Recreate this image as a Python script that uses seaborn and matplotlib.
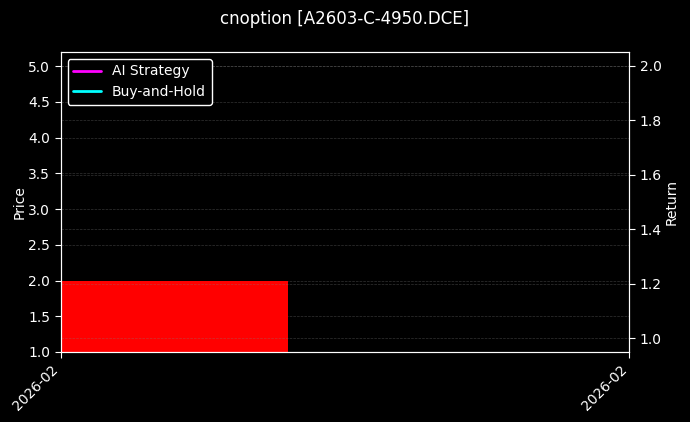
import numpy as np
import pandas as pd
import matplotlib
matplotlib.use('Agg')
import matplotlib.pyplot as plt
import matplotlib.dates as mdates
import seaborn as sns

# Data
dates = ['2026-02-02']
open_price = [2.0]
close_price = [1.0]
ai_strategy = [1.0]
buy_and_hold = [1.0]
tick_labels = ['2026-02', '2026-02']

sns.set_style('dark')
plt.rcParams['font.family'] = ['DejaVu Sans']

df = pd.DataFrame({
    'date': pd.to_datetime(dates),
    'open': open_price,
    'close': close_price,
    'ai': ai_strategy,
    'hold': buy_and_hold,
})

fig, ax = plt.subplots(figsize=(6.9, 4.22), dpi=100)
fig.patch.set_facecolor('black')
ax.set_facecolor('black')
ax2 = ax.twinx()

# candle bodies
x = mdates.date2num(df['date'])
bottom = np.minimum(df['open'], df['close'])
height = np.abs(df['open'] - df['close'])
colors = ['red' if c < o else 'lime' for o, c in zip(df['open'], df['close'])]
ax.bar(x, height, bottom=bottom, width=0.6, color=colors, edgecolor='none', linewidth=0)

# strategy curves on return axis
sns.lineplot(x=x, y=df['ai'], ax=ax2, color='magenta', lw=2, label='AI Strategy', legend=False)
sns.lineplot(x=x, y=df['hold'], ax=ax2, color='cyan', lw=2, label='Buy-and-Hold', legend=False)

ax.set_xlim(x[0] - 0.3, x[0] + 1.2)
ax.set_ylim(1.0, 5.2)
ax2.set_ylim(0.95, 2.05)
ax.set_xticks([x[0] - 0.3, x[0] + 1.2])
ax.set_xticklabels(tick_labels, rotation=45, ha='right')

ax.set_ylabel('Price', color='white', labelpad=1)
ax2.set_ylabel('Return', color='white', labelpad=2)
for a in (ax, ax2):
    a.tick_params(colors='white', labelsize=10, length=4)
    for s in a.spines.values():
        s.set_color('white')
    a.grid(True, axis='y', linestyle='--', color='gray', alpha=0.4, linewidth=0.5)
ax.grid(False, axis='x')
ax.tick_params(axis='x', bottom=True)
ax.tick_params(axis='y', left=True)
ax2.tick_params(axis='y', right=True)

leg = ax2.legend(loc='upper left', facecolor='black', edgecolor='white', labelcolor='white', fontsize=10)
leg.get_frame().set_alpha(1.0)

fig.suptitle('cnoption [A2603-C-4950.DCE]', color='white', fontsize=12, y=0.976)
fig.subplots_adjust(left=0.088, right=0.912, top=0.877, bottom=0.166)
fig.savefig('out.png', facecolor='black')
